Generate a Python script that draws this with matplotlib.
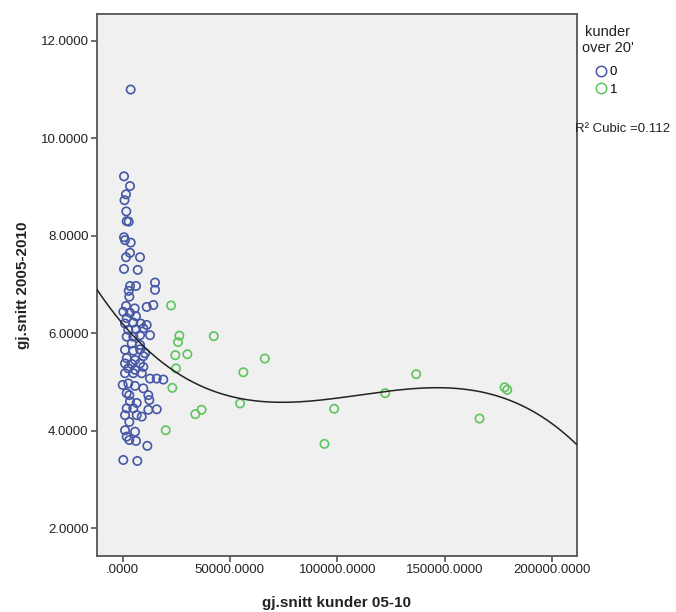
import numpy as np
import matplotlib
matplotlib.use("Agg")
import matplotlib.pyplot as plt
from matplotlib.ticker import FuncFormatter
from matplotlib.lines import Line2D

# ---- data ----
x_group0 = [3800, 700, 3500, 1630, 930, 1770, 1960, 2890, 700, 1165, 3820,
            3495, 1630, 8155, 700, 7083, 15145, 3495, 6290, 15145, 2890, 3170,
            14350, 11280, 1630, 5685, 370, 3495, 6290, 1960,
            1165, 5030, 8480, 11280, 2700, 6290, 9690, 12815, 1960, 5030, 8155,
            4290, 8155, 1165, 5030, 8155, 10485, 1960, 5825, 9690, 1165, 4290,
            8155, 2700, 5825, 9690, 1165, 5030, 8950, 12815, 15940, 19010, 100,
            2700, 5825, 9690,
            3170, 12020, 1960, 3495, 6620, 12490, 1960, 5030, 12020, 15940, 1165,
            6620, 8950, 3170, 1165, 5825, 1960, 3170, 6290, 11560, 370, 6900]
y_group0 = [11.00, 9.22, 9.02, 8.85, 8.73, 8.50, 8.30, 8.29, 7.97, 7.91, 7.86,
            7.65, 7.56, 7.56, 7.32, 7.30, 7.04, 6.97, 6.97, 6.89, 6.87, 6.75,
            6.58, 6.54, 6.56, 6.51, 6.44, 6.42, 6.35, 6.31,
            6.20, 6.22, 6.20, 6.17, 6.07, 6.08, 6.10, 5.96, 5.93, 5.93, 5.96,
            5.79, 5.76, 5.66, 5.64, 5.67, 5.59, 5.49, 5.45, 5.53, 5.38, 5.37,
            5.38, 5.28, 5.25, 5.31, 5.18, 5.18, 5.18, 5.07, 5.07, 5.05, 4.94,
            4.97, 4.92, 4.87,
            4.73, 4.73, 4.77, 4.60, 4.57, 4.63, 4.46, 4.46, 4.43, 4.44, 4.32,
            4.32, 4.29, 4.18, 4.01, 3.98, 3.88, 3.81, 3.79, 3.69, 3.40, 3.38]
x_group1 = [22600, 26470, 25860, 24600, 30200, 24930, 23200, 20130, 33920,
            36810, 42500, 56290, 54760, 66270, 94040, 98560, 122330, 136770,
            166270, 177920, 179180]
y_group1 = [6.57, 5.95, 5.82, 5.55, 5.57, 5.28, 4.88, 4.01, 4.34, 4.43, 5.94,
            5.20, 4.56, 5.48, 3.73, 4.45, 4.77, 5.16, 4.25, 4.89, 4.84]

group_labels = ["0", "1"]
legend_title_lines = ["kunder", "over 20'"]
r2_text = "R\u00b2 Cubic =0.112"
x_label = "gj.snitt kunder 05-10"
y_label = "gj.snitt 2005-2010"
x_ticks = [0, 50000, 100000, 150000, 200000]
y_ticks = [2, 4, 6, 8, 10, 12]

# ---- style ----
plt.rcParams['font.family'] = ['Liberation Sans', 'DejaVu Sans']
blue = '#4657a6'
green = '#5ec45e'
frame_c = '#555555'
txt_c = '#222222'

W, H = 676, 612
fig = plt.figure(figsize=(W/100, H/100), dpi=100)
ax = fig.add_axes([97/W, 1-556/H, (577-97)/W, (556-14)/H])
ax.set_facecolor('#f0f0f0')

ax.scatter(x_group0, y_group0, s=36, facecolors='none', edgecolors=blue,
           linewidths=1.2, zorder=3)
ax.scatter(x_group1, y_group1, s=36, facecolors='none', edgecolors=green,
           linewidths=1.2, zorder=3)

xlim = (-11880, 211660)
ylim = (1.43, 12.55)

# cubic fit on all points
xa = np.array(x_group0 + x_group1, dtype=float)
ya = np.array(y_group0 + y_group1, dtype=float)
coef = np.polyfit(xa, ya, 3)
xs = np.linspace(xlim[0], xlim[1], 400)
ax.plot(xs, np.polyval(coef, xs), color=txt_c, lw=1.1, zorder=4)

ax.set_xlim(*xlim)
ax.set_ylim(*ylim)
ax.set_xticks(x_ticks)
ax.set_yticks(y_ticks)

def fmt(v, pos):
    s = f"{v:.4f}"
    if s.startswith("0."):
        s = s[1:]
    return s

ax.xaxis.set_major_formatter(FuncFormatter(fmt))
ax.yaxis.set_major_formatter(FuncFormatter(fmt))
ax.tick_params(axis='both', direction='out', length=4, width=1.2,
               color=frame_c, labelsize=9.5, labelcolor=txt_c, pad=2)
for sp in ax.spines.values():
    sp.set_color(frame_c)
    sp.set_linewidth(1.3)

ax.set_xlabel(x_label, fontsize=11, fontweight='bold', labelpad=14, color=txt_c)
ax.set_ylabel(y_label, fontsize=11, fontweight='bold', labelpad=8, color=txt_c)

# legend title
fig.text(608/W, 1-32/H, legend_title_lines[0], fontsize=10.5, ha='center',
         va='center', color=txt_c)
fig.text(608/W, 1-48/H, legend_title_lines[1], fontsize=10.5, ha='center',
         va='center', color=txt_c)

handles = [Line2D([], [], marker='o', linestyle='none', markersize=7.5,
                  markerfacecolor='none', markeredgecolor=c, markeredgewidth=1.1)
           for c in (blue, green)]
leg = fig.legend(handles, group_labels, loc='upper left',
                 bbox_to_anchor=(596/W, 1-66/H), frameon=False,
                 fontsize=9.5, handlelength=0.8, borderaxespad=0,
                 handletextpad=0.25, labelspacing=0.42, borderpad=0)

fig.text(575/W, 1-129/H, r2_text, fontsize=9.5, ha='left', va='center',
         color=txt_c)

fig.savefig("out.png", dpi=100, facecolor='white')
